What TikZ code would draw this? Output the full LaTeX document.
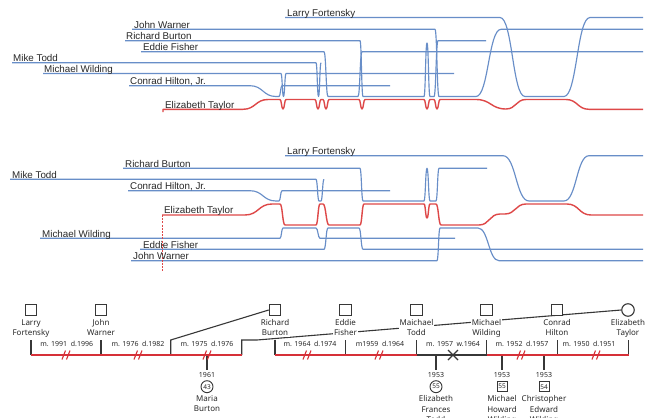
\documentclass[tikz,border=0pt]{standalone}
\usepackage{fontspec}
\setmainfont{Liberation Sans}
\newfontfamily\treefont{Noto Sans}
\usetikzlibrary{calc}
\definecolor{blueline}{RGB}{104,142,200}
\definecolor{redline}{RGB}{222,72,72}
\definecolor{treered}{RGB}{214,48,56}
\definecolor{dk}{RGB}{55,55,55}
\definecolor{txt}{RGB}{40,40,40}
\begin{document}
\begin{tikzpicture}[x=1pt,y=-1pt,
  sc/.style={to path={let \p1=(\tikztostart), \p2=(\tikztotarget) in .. controls ({(\x1+\x2)/2},\y1) and ({(\x1+\x2)/2},\y2) .. (\tikztotarget)}},
  sl/.style={draw=blueline, line width=1.15pt, line join=round},
  rl/.style={draw=redline, line width=1.4pt, line join=round},
  lab/.style={anchor=base west, inner sep=0, text=txt, font=\fontsize{9.8}{11}\selectfont},
  tl/.style={draw=dk, line width=1.1pt},
  bar/.style={draw=treered, line width=1.4pt},
  sls/.style={draw=treered, line width=1.1pt},
  psq/.style={rectangle, draw=dk, fill=white, line width=1.1pt, minimum size=11.5pt, inner sep=0},
  pci/.style={circle, draw=dk, fill=white, line width=1.1pt, minimum size=12.5pt, inner sep=0},
  nm/.style={anchor=north, align=center, fill=white, inner sep=0.6pt, text=txt, font=\treefont\fontsize{8}{10.4}\selectfont},
  ml/.style={anchor=base, inner sep=0, text=txt, font=\treefont\fontsize{7}{8}\selectfont},
  csq/.style={rectangle, draw=dk, fill=white, line width=0.9pt, minimum size=10pt, inner sep=0, text=txt, font=\treefont\fontsize{6.5}{7}\selectfont},
  cci/.style={circle, draw=dk, fill=white, line width=0.9pt, minimum size=12pt, inner sep=0, text=txt, font=\treefont\fontsize{6.5}{7}\selectfont}
]
\fill[white] (0,0) rectangle (649,418);
\useasboundingbox (0,0) rectangle (649,418);

% ================= TOP PANEL =================
\draw[sl] (285,17.5) -- (500,17.5) to[sc] (525,96.5) -- (564,96.5) to[sc] (590,17.5) -- (643,17.5);
\draw[sl] (132,29.3) -- (435,29.3) to[sc] (439,96.5) -- (476,96.5) to[sc] (501,29.3) -- (643,29.3);
\draw[sl] (125,40.7) -- (360,40.7) to[sc] (363,96.5) -- (424,96.5) to[sc] (427,43) to[sc] (430,96.5) -- (434,96.5) to[sc] (438,40.7) -- (486,40.7);
\draw[sl] (141,51.7) -- (324,51.7) to[sc] (328,96.5) -- (358,96.5) to[sc] (362,51.7) -- (643,51.7);
\draw[sl] (12,62.7) -- (316,62.7) to[sc] (318.5,96.5) to[sc] (321,62.7);
\draw[sl] (43,73.5) -- (281,73.5) to[sc] (283.5,96.5) to[sc] (286,73.5) -- (454,73.5);
\draw[sl] (129,85.7) -- (250,85.7) to[sc] (276,96.5) -- (279,96.5) to[sc] (282,85.7) -- (390,85.7);
\draw[rl] (163,112) -- (163,109.3) -- (243,109.3) to[sc] (268,99.5) -- (280,99.5) to[sc] (283,109) to[sc] (286,99.5)
  -- (315,99.5) to[sc] (318,109) to[sc] (321,99.5) -- (323,99.5) to[sc] (326,109) to[sc] (329,99.5)
  -- (359,99.5) to[sc] (362,109) to[sc] (365,99.5) -- (424,99.5) to[sc] (427,109) to[sc] (430,99.5)
  -- (434,99.5) to[sc] (437,109) to[sc] (440,99.5) -- (476,99.5) to[sc] (506,109) to[sc] (526,99.5)
  -- (566,99.5) to[sc] (589,109.3) -- (643,109.3);

\node[lab] (tl1) at (287,16.2) {Larry Fortensky};
\node[lab] (tl2) at (134,28) {John Warner};
\node[lab] (tl3) at (126,39.4) {Richard Burton};
\node[lab] (tl4) at (143,50.4) {Eddie Fisher};
\node[lab] (tl5) at (13,61.4) {Mike Todd};
\node[lab] (tl6) at (44,72.2) {Michael Wilding};
\node[lab] (tl7) at (130,84.4) {Conrad Hilton, Jr.};
\node[lab] (tl8) at (165,108) {Elizabeth Taylor};

% ================= MIDDLE PANEL =================
\draw[sl] (285,155.7) -- (503,155.7) to[sc] (529,201) -- (564,201) to[sc] (589,155.7) -- (643,155.7);
\draw[sl] (123,168.3) -- (360,168.3) to[sc] (363,201) -- (424,201) to[sc] (427,168.3) to[sc] (430,201) -- (436,201) to[sc] (439,168.3) -- (487,168.3);
\draw[sl] (10,179.3) -- (316,179.3) to[sc] (319,201) -- (321,201) to[sc] (324,179.3);
\draw[sl] (128,190.7) -- (250,190.7) to[sc] (276,201) -- (279,201) to[sc] (282,190.7) -- (390,190.7);
\draw[sl] (40,238.3) -- (280,238.3) to[sc] (283,228) -- (316,228) to[sc] (320,238.3) -- (455,238.3);
\draw[sl] (140,249.3) -- (324,249.3) to[sc] (328,228) -- (359,228) to[sc] (363,249.3) -- (643,249.3);
\draw[sl] (131,260.7) -- (437,260.7) to[sc] (440,228) -- (478,228) to[sc] (499,260.7) -- (643,260.7);
\draw[rl] (162,215) -- (245,215) to[sc] (272,204) -- (280,204) to[sc] (285,225) -- (316,225) to[sc] (320,204)
  -- (323,204) to[sc] (329,225) -- (360,225) to[sc] (364,204) -- (424,204) to[sc] (427,218) to[sc] (430,204)
  -- (436,204) to[sc] (441,225) -- (479,225) to[sc] (500,214) -- (505,214) to[sc] (526,204)
  -- (567,204) to[sc] (591,215) -- (643,215);
\draw[draw=redline, line width=0.9pt, dash pattern=on 2pt off 1.2pt] (162,215) -- (162,271);

\node[lab] (ml1) at (287,154.4) {Larry Fortensky};
\node[lab] (ml2) at (125,167) {Richard Burton};
\node[lab] (ml3) at (12,178) {Mike Todd};
\node[lab] (ml4) at (130,189.4) {Conrad Hilton, Jr.};
\node[lab] (ml5) at (164,213.7) {Elizabeth Taylor};
\node[lab] (ml6) at (42,237) {Michael Wilding};
\node[lab] (ml7) at (143,248) {Eddie Fisher};
\node[lab] (ml8) at (133,259.4) {John Warner};

% ================= BOTTOM PANEL (family tree) =================
\coordinate (m3t) at (170.7,340);
\coordinate (m3a) at (170.7,355);
\coordinate (m3bt) at (241.7,340);
\coordinate (m3bc) at (257,340);
\coordinate (m3b) at (241.7,355);

% persons
\node[psq] (lf) at (31,310) {};
\node[psq] (jw) at (101,310) {};
\node[psq] (rb) at (275,310) {};
\node[psq] (ef) at (345.5,310) {};
\node[psq] (mt) at (416.5,310) {};
\node[psq] (mw) at (486.5,310) {};
\node[psq] (ch) at (557,310) {};
\node[pci] (et) at (628,310) {};

% long spouse connectors (behind labels)
\draw[tl] (m3a) -- (m3t) -- (rb.west);
\draw[tl] (m3b) -- (m3bt) -- (m3bc) -- (et.west);
\node[psq] at (ch) {};

% labels
\node[nm] (lfn) at (31,318.6) {Larry\\Fortensky};
\node[nm] (jwn) at (101,318.6) {John\\Warner};
\node[nm] (rbn) at (275,318.6) {Richard\\Burton};
\node[nm] (efn) at (345.5,318.6) {Eddie\\Fisher};
\node[nm] (mtn) at (416.5,318.6) {Maichael\\Todd};
\node[nm] (mwn) at (486.5,318.6) {Michael\\Wilding};
\node[nm] (chn) at (557,318.6) {Conrad\\Hilton};
\node[nm] (etn) at (628,318.6) {Elizabeth\\Taylor};

% bar points
\coordinate (b1) at (31,355);
\coordinate (b2) at (101,355);
\coordinate (b4) at (275,355);
\coordinate (b5) at (345.5,355);
\coordinate (b6) at (416.5,355);
\coordinate (b7) at (486.5,355);
\coordinate (b8) at (557.5,355);
\coordinate (b9) at (628.5,355);

\foreach \p in {b1,b2,b4,b5,b6,b7,b8,b9}{\draw[tl] (\p) -- ++(0,-15);}

% children
\coordinate (c1b) at (207,355);
\coordinate (c2b) at (436,355);
\coordinate (c3b) at (502,355);
\coordinate (c4b) at (544,355);
\node[ml] (c1y) at (207,377.6) {1961};
\node[ml] (c2y) at (436,377.6) {1953};
\node[ml] (c3y) at (502,377.6) {1953};
\node[ml] (c4y) at (544,377.6) {1953};
\draw[tl] (c1b) -- (207,369.5);
\draw[tl] (c2b) -- (436,369.5);
\draw[tl] (c3b) -- (502,369.5);
\draw[tl] (c4b) -- (544,369.5);
\node[cci] (c1) at (207,386.7) {43};
\node[cci] (c2) at (436,386.7) {55};
\node[csq] (c3) at (502,386.7) {55};
\node[csq] (c4) at (544,386.7) {54};
\node[nm] (c1n) at (207,394.8) {Maria\\Burton};
\node[nm] (c2n) at (436,394.8) {Elizabeth\\Frances\\Todd};
\node[nm] (c3n) at (502,394.8) {Michael\\Howard\\Wilding};
\node[nm] (c4n) at (544,394.8) {Christopher\\Edward\\Wilding};

% marriage bars
\draw[bar] (b1) -- (m3b);
\draw[bar] (b4) -- (b6);
\draw[tl, line width=1.3pt] (b6) -- (b7);
\draw[bar] (b7) -- (b9);

% divorce slashes
\foreach \c in {66,138,207,307,379,521,596}{
  \draw[sls] (\c-4,359.5) -- (\c-0.5,350.5) (\c+0.5,359.5) -- (\c+4,350.5);
}
% widowed cross
\draw[tl, line width=1.4pt] (448,350) -- (458,360) (448,360) -- (458,350);

% marriage labels
\node[ml] (d1) at (66.7,346) {m. 1991 \ d.1996};
\node[ml] (d2) at (138,346) {m. 1976 \ d.1982};
\node[ml] (d3) at (207,346) {m. 1975 \ d.1976};
\node[ml] (d4) at (310,346) {m. 1964 \ d.1974};
\node[ml] (d5) at (380,346) {m1959 \ d.1964};
\node[ml] (d6) at (453,346) {m. 1957 \ w.1964};
\node[ml] (d7) at (522,346) {m. 1952 \ d.1957};
\node[ml] (d8) at (589,346) {m. 1950 \ d.1951};
\end{tikzpicture}
\end{document}
